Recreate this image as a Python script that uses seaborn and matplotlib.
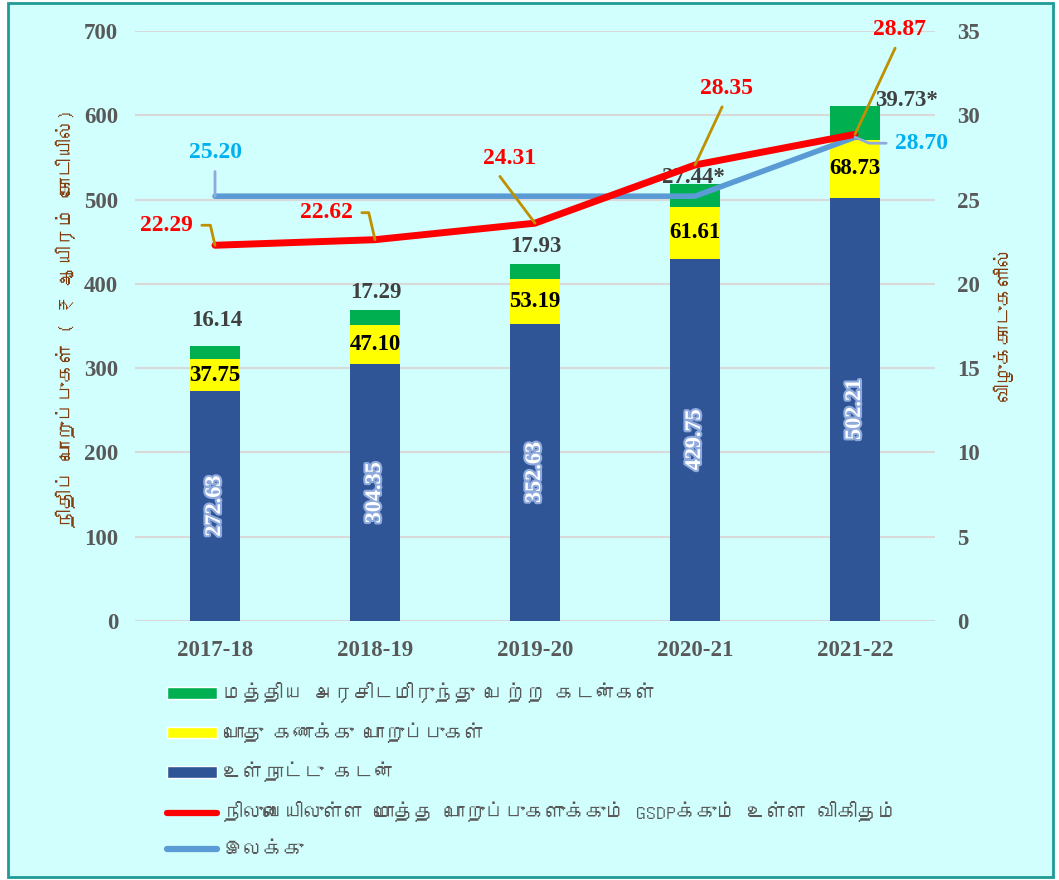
import matplotlib.pyplot as plt
import matplotlib.patheffects as pe
import numpy as np
import pandas as pd
import seaborn as sns
from matplotlib import font_manager
from matplotlib.font_manager import FontProperties
from matplotlib.ft2font import FT2Font
from matplotlib.lines import Line2D
from matplotlib.patches import Patch, Rectangle

years = ["2017-18", "2018-19", "2019-20", "2020-21", "2021-22"]
internal_debt = [272.63, 304.35, 352.63, 429.75, 502.21]
public_account = [37.75, 47.10, 53.19, 61.61, 68.73]
central_loans = [16.14, 17.29, 17.93, 27.44, 39.73]
central_labels = ["16.14", "17.29", "17.93", "27.44*", "39.73*"]
debt_gsdp = [22.29, 22.62, 23.60, 27.05, 28.87]
debt_gsdp_labels = ["22.29", "22.62", "24.31", "28.35", "28.87"]
target = [25.20, 25.20, 25.20, 25.20, 28.70]
target_labels = ["25.20", "", "", "", "28.70"]

legend_labels = [
    "மத்திய அரசிடமிருந்து பெற்ற கடன்கள்",
    "பொது கணக்கு பொறுப்புகள்",
    "உள்நாட்டு கடன்",
    "நிலுவையிலுள்ள மொத்த பொறுப்புகளுக்கும் GSDPக்கும் உள்ள விகிதம்",
    "இலக்கு",
]
left_label = "நிதிப் பொறுப்புகள் ( ₹ ஆயிரம் கோடியில்)"
right_label = "விழுக்காடுகளில்"

GREEN = "#00B050"
YELLOW = "#FFFF00"
BLUE = "#2F5597"
RED = "#FF0000"
LIGHT_BLUE = "#5B9BD5"
GREY = "#595959"
BROWN = "#843C0C"


def tamil_family():
    # first installed font that has Tamil glyphs
    for f in font_manager.fontManager.ttflist:
        try:
            if 0x0B95 in FT2Font(f.fname).get_charmap():
                return f.name
        except Exception:
            continue
    return "DejaVu Sans"


sns.set_theme(style="white")
plt.rcParams["font.family"] = ["Liberation Serif", "DejaVu Serif"]
plt.rcParams["font.weight"] = "bold"
tamil = [tamil_family(), "DejaVu Sans"]

df = pd.DataFrame({
    "year": years,
    "internal": internal_debt,
    "public": public_account,
    "central": central_loans,
})
df["mid"] = df["internal"] + df["public"]
df["total"] = df["mid"] + df["central"]
xpos = np.arange(len(years))

W, H = 1059, 880
fig = plt.figure(figsize=(W / 100, H / 100), dpi=100, facecolor="white")
fig.add_artist(Rectangle((8 / W, 3 / H), 1045 / W, 874 / H, transform=fig.transFigure,
                         facecolor="#D0FFFE", edgecolor="#1F9A96", lw=2, zorder=-1))
ax = fig.add_axes([135 / W, 1 - 621 / H, 800 / W, 590 / H])
ax.set_facecolor("none")

# stacked bars drawn from the tallest down
for col, color in [("total", GREEN), ("mid", YELLOW), ("internal", BLUE)]:
    sns.barplot(data=df, x="year", y=col, color=color, saturation=1, width=0.31,
                linewidth=0, ax=ax, zorder=2)

ax.set_ylim(0, 700)
ax.set_yticks(range(0, 701, 100))
ax.yaxis.grid(True, color="#D9D9D9", lw=1.5)
ax.set_axisbelow(True)
ax.set_xlabel("")
ax.set_ylabel("")
ax.tick_params(axis="y", length=0, pad=12, labelcolor=GREY, labelsize=16.5)
ax.tick_params(axis="x", length=0, pad=14, labelcolor=GREY, labelsize=16.5)
sns.despine(ax=ax, left=True, bottom=True)

for i, row in df.iterrows():
    ax.text(i, row["internal"] / 2, f"{row['internal']:.2f}", rotation=90, ha="center",
            va="center", color="white", fontsize=16,
            path_effects=[pe.withStroke(linewidth=3, foreground="#8FAADC")], zorder=5)
    ax.text(i, row["internal"] + row["public"] / 2, f"{row['public']:.2f}", ha="center",
            va="center", color="black", fontsize=16.5, zorder=5)

green_offsets = [(2, 25), (1, 18), (1, 17), (-2, 6), (52, 6)]
for i, (lab, off) in enumerate(zip(central_labels, green_offsets)):
    ax.annotate(lab, xy=(i, df["total"][i]), xytext=off, textcoords="offset pixels",
                ha="center", va="center", color="#404040", fontsize=16.5, zorder=6)

ax2 = ax.twinx()
sns.lineplot(x=xpos, y=target, ax=ax2, color=LIGHT_BLUE, lw=4, legend=False)
sns.lineplot(x=xpos, y=debt_gsdp, ax=ax2, color=RED, lw=5, legend=False)
ax2.set_ylim(0, 35)
ax2.set_yticks(range(0, 36, 5))
ax2.grid(False)
ax2.tick_params(axis="y", length=0, pad=16, labelcolor=GREY, labelsize=16.5)
sns.despine(ax=ax2, left=True, bottom=True, right=True)

# (dx, dy, ha, relpos, connection)
red_ann = [
    (-22, 20, "right", (1, 0.5), "angle,angleA=0,angleB=-77,rad=0"),
    (-22, 27, "right", (1, 0.5), "angle,angleA=0,angleB=-77,rad=0"),
    (-25, 65, "center", (0.2, 0), "arc3"),
    (31, 77, "center", (0.5, 0), "arc3"),
    (44, 105, "center", (0.5, 0), "arc3"),
]
for i, (lab, (dx, dy, ha, rel, conn)) in enumerate(zip(debt_gsdp_labels, red_ann)):
    ax2.annotate(lab, xy=(i, debt_gsdp[i]), xytext=(dx, dy), textcoords="offset pixels",
                 ha=ha, va="center", color=RED, fontsize=17, zorder=6,
                 arrowprops=dict(arrowstyle="-", color="#BF9000", lw=2, shrinkA=4, shrinkB=0,
                                 relpos=rel, connectionstyle=conn))

blue_ann = {
    0: (0, 44, "center", (0.5, 0), "arc3"),
    4: (40, -6, "left", (0, 0.5), "angle,angleA=0,angleB=157,rad=0"),
}
for i, (dx, dy, ha, rel, conn) in blue_ann.items():
    ax2.annotate(target_labels[i], xy=(i, target[i]), xytext=(dx, dy),
                 textcoords="offset pixels", ha=ha, va="center", color="#00B0F0",
                 fontsize=17, zorder=6,
                 arrowprops=dict(arrowstyle="-", color="#8FAADC", lw=2, shrinkA=4, shrinkB=0,
                                 relpos=rel, connectionstyle=conn))

ax.set_xlim(-0.5, len(years) - 0.5)

fig.text(66 / W, 1 - 318 / H, left_label, rotation=90, ha="center", va="center",
         color=BROWN, family=tamil, weight="normal", fontsize=14)
fig.text(1003 / W, 1 - 323 / H, right_label, rotation=90, ha="center", va="center",
         color=BROWN, family=tamil, weight="normal", fontsize=14)

handles = [
    Patch(facecolor=GREEN),
    Patch(facecolor=YELLOW),
    Patch(facecolor=BLUE),
    Line2D([0], [0], color=RED, lw=4.5, solid_capstyle="round"),
    Line2D([0], [0], color=LIGHT_BLUE, lw=4.5, solid_capstyle="round"),
]
fig.legend(handles, legend_labels, loc="upper left", bbox_to_anchor=(167 / W, 1 - 682 / H),
           frameon=False, prop=FontProperties(family=tamil, size=14.5, weight="normal"),
           labelcolor=GREY, handlelength=2.5, handleheight=0.5, labelspacing=0.95,
           handletextpad=0.3, borderaxespad=0, borderpad=0)

fig.savefig("out.png", dpi=100)
